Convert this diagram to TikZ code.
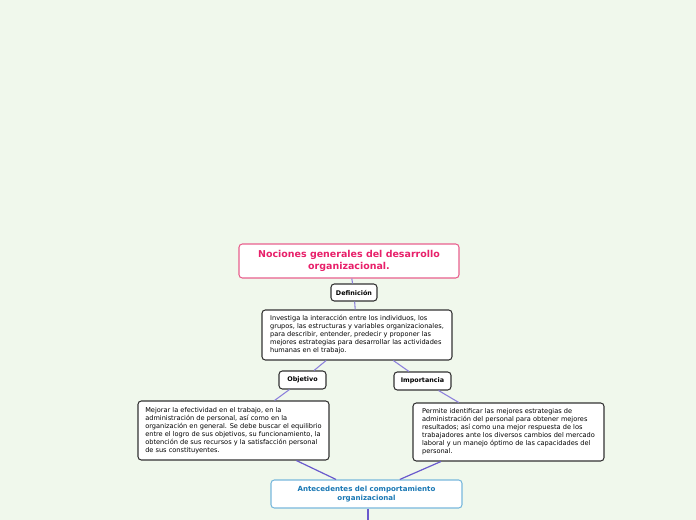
\documentclass[tikz,border=0pt]{standalone}
\usepackage{fontspec}
\setmainfont{DejaVu Sans}
\definecolor{bg}{HTML}{F0F8EC}
\definecolor{pinkc}{HTML}{E8206A}
\definecolor{pinkb}{HTML}{E8608E}
\definecolor{bluec}{HTML}{1A78B4}
\definecolor{blueb}{HTML}{78B8DC}
\definecolor{linec}{HTML}{6A5ACD}
\definecolor{linel}{HTML}{8C80DC}
\definecolor{boxb}{HTML}{333333}
\begin{document}
\begin{tikzpicture}[x=0.75pt,y=-0.75pt,
  basebox/.style={draw=boxb,fill=white,rounded corners=2.5pt,line width=0.8pt,inner sep=0pt,align=center},
  titlebox/.style={basebox,draw=pinkb,text=pinkc,font=\fontsize{7.1}{9.6}\selectfont\bfseries},
  labelbox/.style={basebox,font=\fontsize{4.8}{5.5}\selectfont\bfseries},
  textbox/.style={basebox,font=\fontsize{4.95}{6}\selectfont,align=left},
  antbox/.style={basebox,draw=blueb,text=bluec,font=\fontsize{5.3}{6.6}\selectfont\bfseries},
  conn/.style={draw=linel,line width=0.8pt},
  mainconn/.style={draw=linec,line width=0.9pt}]
\fill[bg] (0,0) rectangle (696,520);
\useasboundingbox (0,0) rectangle (696,520);
\node[titlebox,minimum width=165pt,minimum height=25.5pt] (title) at (349,261) {Nociones generales del desarrollo\\organizacional.};
\node[labelbox,minimum width=34.5pt,minimum height=12.75pt] (defl) at (354,292.5) {Definición};
\node[textbox,minimum width=142.5pt,minimum height=37.5pt] (defbox) at (357,335) {Investiga la interacción entre los individuos, los\\grupos, las estructuras y variables organizacionales,\\para describir, entender, predecir y proponer las\\mejores estrategias para desarrollar las actividades\\humanas en el trabajo.};
\node[labelbox,minimum width=35.25pt,minimum height=13.5pt] (obj) at (302.5,380) {Objetivo};
\node[labelbox,minimum width=42.75pt,minimum height=13.5pt] (imp) at (422.5,381) {Importancia};
\node[textbox,minimum width=143.25pt,minimum height=44.25pt] (objbox) at (233.5,430.5) {Mejorar la efectividad en el trabajo, en la\\administración de personal, así como en la\\organización en general. Se debe buscar el equilibrio\\entre el logro de sus objetivos, su funcionamiento, la\\obtención de sus recursos y la satisfacción personal\\de sus constituyentes.};
\node[textbox,minimum width=143.25pt,minimum height=43.5pt] (impbox) at (508.5,432) {Permite identificar las mejores estrategias de\\administración del personal para obtener mejores\\resultados; así como una mejor respuesta de los\\trabajadores ante los diversos cambios del mercado\\laboral y un manejo óptimo de las capacidades del\\personal.};
\node[antbox,minimum width=143.25pt,minimum height=21pt] (ant) at (366.5,494) {Antecedentes del comportamiento\\organizacional};
\coordinate (endc) at (368,520);
\draw[conn] (title) -- (defl);
\draw[conn] (defl) -- (defbox);
\draw[conn] (defbox) -- (obj);
\draw[conn] (defbox) -- (imp);
\draw[conn] (obj) -- (objbox);
\draw[conn] (imp) -- (impbox);
\draw[mainconn] (objbox) -- (ant);
\draw[mainconn] (impbox) -- (ant);
\draw[mainconn] (ant.south -| endc) -- (endc);
\end{tikzpicture}
\end{document}
